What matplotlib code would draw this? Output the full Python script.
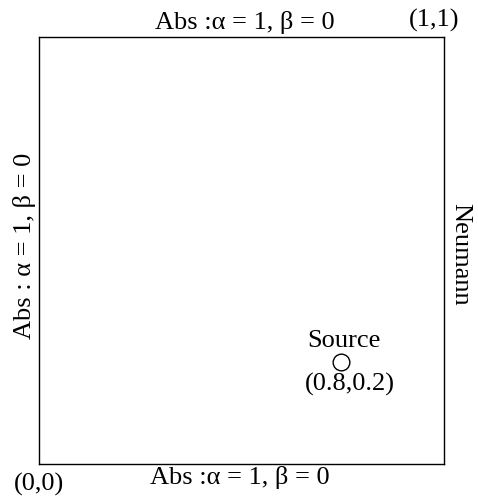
import matplotlib
matplotlib.use("Agg")
import matplotlib.pyplot as plt

# boundary conditions of the domain
bc_top = "Abs :α = 1, β = 0"
bc_bottom = "Abs :α = 1, β = 0"
bc_left = "Abs : α = 1, β = 0"
bc_right = "Neumann"

# corners and source (position)
corner_labels = ["(0,0)", "(1,1)"]
source_label = "Source"
source_coord_label = "(0.8,0.2)"
source_xy = [0.746, 0.24]

plt.rcParams["font.family"] = ["Liberation Serif", "DejaVu Serif"]

fig = plt.figure(figsize=(4.78, 4.98), dpi=100)
ax = fig.add_axes([0.0816, 0.0683, 0.8474, 0.8574])
ax.set_xlim(0, 1)
ax.set_ylim(0, 1)
ax.set_xticks([])
ax.set_yticks([])
for s in ax.spines.values():
    s.set_linewidth(1.0)

fs = 19
ax.text(0.507, 1.006, bc_top, ha="center", va="bottom", fontsize=fs, transform=ax.transAxes)
ax.text(0.496, -0.005, bc_bottom, ha="center", va="top", fontsize=fs, transform=ax.transAxes)
ax.text(-0.008, 0.51, bc_left, ha="right", va="center", rotation=90, fontsize=fs,
        transform=ax.transAxes)
ax.text(1.012, 0.49, bc_right, ha="left", va="center", rotation=-90, fontsize=fs,
        transform=ax.transAxes)
ax.text(0.0, -0.02, corner_labels[0], ha="center", va="top", fontsize=fs,
        transform=ax.transAxes)
ax.text(0.975, 1.012, corner_labels[1], ha="center", va="bottom", fontsize=fs,
        transform=ax.transAxes)

ax.plot(source_xy[0], source_xy[1], "o", ms=12, mfc="none", mec="black", mew=1.0,
        clip_on=False)
ax.annotate(source_label, (source_xy[0], source_xy[1]), xytext=(2, 7),
            textcoords="offset points", ha="center", va="bottom", fontsize=fs)
ax.annotate(source_coord_label, (source_xy[0], source_xy[1]), xytext=(6, -8),
            textcoords="offset points", ha="center", va="top", fontsize=fs)

fig.savefig("out.png", dpi=100)
